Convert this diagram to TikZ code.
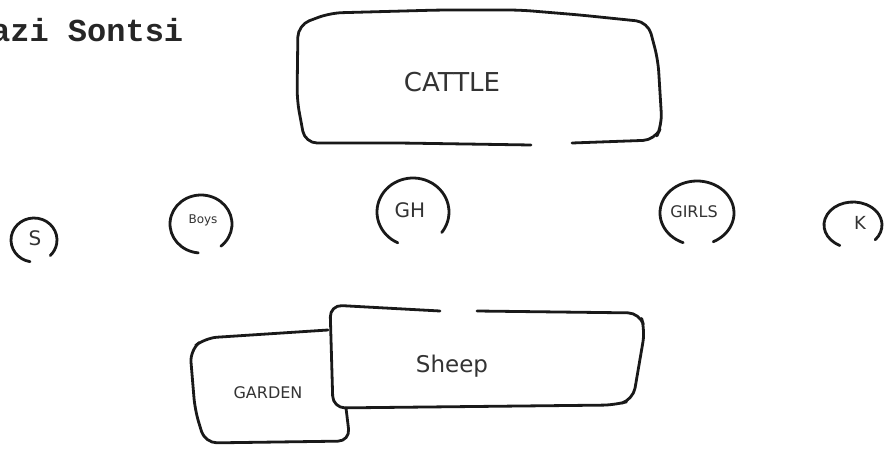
\documentclass[tikz,border=0pt]{standalone}
\usepackage{fontspec}
\setmainfont{DejaVu Sans}
\newfontfamily\typew{Liberation Mono}
\begin{document}
\begin{tikzpicture}[x=1pt,y=-1pt,
  ink/.style={line width=2.8pt, line cap=round, line join=round, draw=black!90},
  lbl/.style={inner sep=0pt, text=black!80},
  hand/.style={ink, rounded corners=12pt}]
\useasboundingbox[fill=white] (0,0) rectangle (884,452);
% title
\node[inner sep=0pt, anchor=base west, text=black!85, font=\typew\bfseries\fontsize{32}{32}\selectfont] (title) at (-9,42) {azi Sontsi};
% labels
\node[lbl, font=\fontsize{26}{26}\selectfont] (cattle) at (452,82) {CATTLE};
\node[lbl, font=\fontsize{20}{20}\selectfont] (s) at (35,238) {S};
\node[lbl, font=\fontsize{12}{12}\selectfont] (boys) at (203,220) {Boys};
\node[lbl, font=\fontsize{20}{20}\selectfont] (gh) at (410,210) {GH};
\node[lbl, font=\fontsize{16}{16}\selectfont] (girls) at (694,212) {GIRLS};
\node[lbl, font=\fontsize{18}{18}\selectfont] (k) at (860,223) {K};
\node[lbl, font=\fontsize{23}{23}\selectfont] (sheep) at (452,366) {Sheep};
\node[lbl, font=\fontsize{16}{16}\selectfont] (garden) at (268,393) {GARDEN};
% cattle box
\draw[hand] (531,145) -- (400,143) -- (305,143) -- (297,100) -- (298,25) -- (330,13) -- (440,10) -- (520,10) -- (580,15) -- (648,22) -- (658,60) -- (662,125) -- (655,140) -- (572,143);
% sheep box
\draw[hand] (440,311) -- (330,305) -- (333,408) -- (615,405) -- (633,400) -- (645,330) -- (640,313) -- (477,311);
% garden box
\draw[hand] (328,330) -- (205,338) -- (190,350) -- (195,410) -- (205,443) -- (350,441) -- (346,408);
% open circles
\draw[ink] ([shift={(100:23 and 22)}]34,240) arc[start angle=100, end angle=405, x radius=23, y radius=22];
\draw[ink] ([shift={(95:31 and 29)}]201,224) arc[start angle=95, end angle=410, x radius=31, y radius=29];
\draw[ink] ([shift={(115:36 and 34)}]413,212) arc[start angle=115, end angle=397, x radius=36, y radius=34];
\draw[ink] ([shift={(112:37 and 32)}]697,213) arc[start angle=112, end angle=424, x radius=37, y radius=32];
\draw[ink] ([shift={(117:29 and 23)}]853,225) arc[start angle=117, end angle=400, x radius=29, y radius=23];
\end{tikzpicture}
\end{document}
